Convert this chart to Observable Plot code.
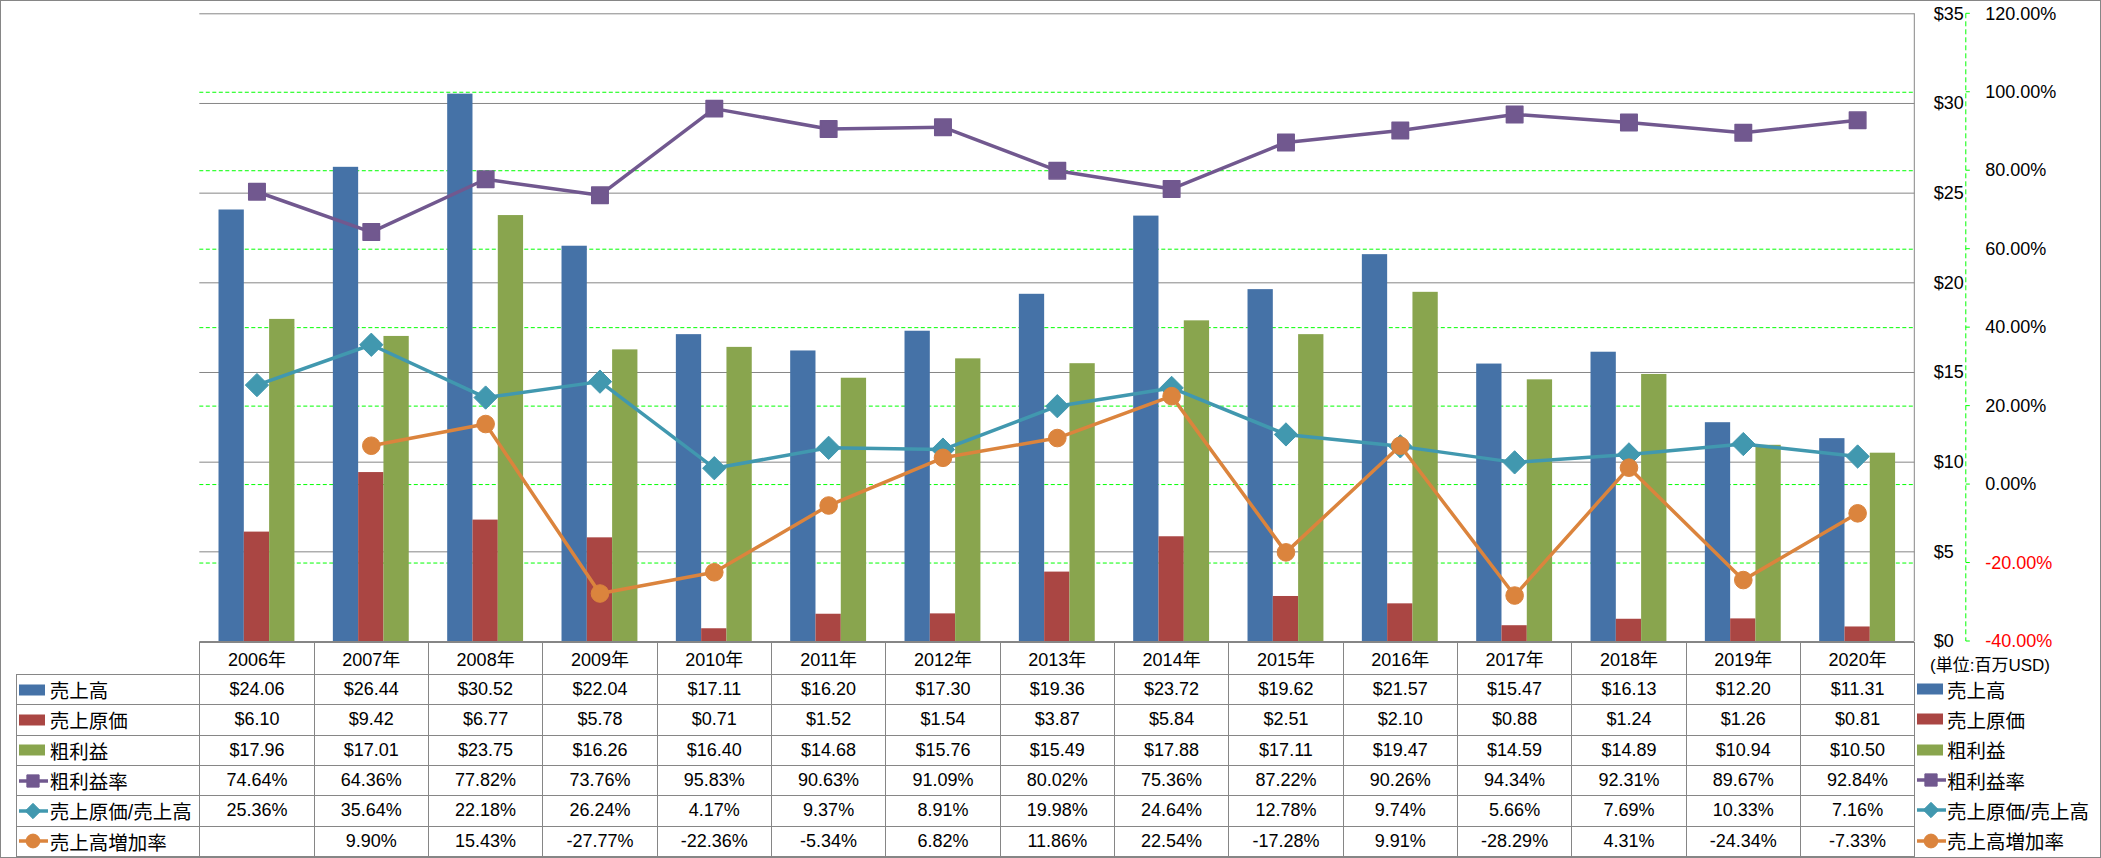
<!DOCTYPE html>
<html>
<head>
<meta charset="utf-8">
<script src="https://cdn.jsdelivr.net/npm/d3@7"></script>
<script src="https://cdn.jsdelivr.net/npm/@observablehq/plot@0.6"></script>
<style>
  body { margin: 0; background: #fff; }
  #wrap { position: relative; width: 2101px; height: 858px; overflow: hidden;
          font-family: "Liberation Sans", Arial, "Noto Sans CJK JP", sans-serif; color: #000; }
  #outer { position: absolute; left: 0; top: 0; width: 2101px; height: 858px; box-sizing: border-box; border: 1px solid #868686; }
  .cell { position: absolute; box-sizing: border-box; border: 1px solid #868686; display: flex;
          align-items: center; justify-content: center; font-size: 18px; white-space: nowrap; }
  .lab { justify-content: flex-start; }
  .leg { position: absolute; display: flex; align-items: center; font-size: 19.5px; white-space: nowrap; }
  #plot { position: absolute; left: 0; top: 0; }
</style>
</head>
<body>
<div id="wrap">
  <div id="outer"></div>
  <div id="table"></div>
  <div id="plot"></div>
</div>
<script>
// ---- data ----
const years = ["2006年","2007年","2008年","2009年","2010年","2011年","2012年","2013年","2014年","2015年","2016年","2017年","2018年","2019年","2020年"];
const sales = [24.06, 26.44, 30.52, 22.04, 17.11, 16.20, 17.30, 19.36, 23.72, 19.62, 21.57, 15.47, 16.13, 12.20, 11.31];
const cogs = [6.10, 9.42, 6.77, 5.78, 0.71, 1.52, 1.54, 3.87, 5.84, 2.51, 2.10, 0.88, 1.24, 1.26, 0.81];
const gross = [17.96, 17.01, 23.75, 16.26, 16.40, 14.68, 15.76, 15.49, 17.88, 17.11, 19.47, 14.59, 14.89, 10.94, 10.50];
const grossMargin = [74.64, 64.36, 77.82, 73.76, 95.83, 90.63, 91.09, 80.02, 75.36, 87.22, 90.26, 94.34, 92.31, 89.67, 92.84];
const cogsRatio = [25.36, 35.64, 22.18, 26.24, 4.17, 9.37, 8.91, 19.98, 24.64, 12.78, 9.74, 5.66, 7.69, 10.33, 7.16];
const growth = [null, 9.90, 15.43, -27.77, -22.36, -5.34, 6.82, 11.86, 22.54, -17.28, 9.91, -28.29, 4.31, -24.34, -7.33];
const seriesNames = ["売上高","売上原価","粗利益","粗利益率","売上原価/売上高","売上高増加率"];
const dollarTicks = [0, 5, 10, 15, 20, 25, 30, 35];
const pctTicks = [-40, -20, 0, 20, 40, 60, 80, 100, 120];
const unitLabel = "(単位:百万USD)";

// ---- style ----
const C = { blue: "#4572A7", red: "#AA4643", green: "#89A54E", purple: "#71588F", teal: "#4198AF", orange: "#DB843D",
            grid: "#868686", lime: "#00ff00" };
const FONT = '"Liberation Sans", Arial, "Noto Sans CJK JP", sans-serif';

// ---- geometry ----
const W = 2101, H = 660, ML = 199.3, MR = 186.7, MT = 13.3, MB = 19;
const bw = (W - ML - MR) / years.length;
const barW = 25.3, pad = (bw - 3 * barW) / 2;

// percent (secondary axis) -> primary $ units
const pctDomain = [-40, 120], usdDomain = [0, 35];
const pctToY = p => (p - pctDomain[0]) / (pctDomain[1] - pctDomain[0]) * (usdDomain[1] - usdDomain[0]) + usdDomain[0];

const barRows = (arr) => years.map((y, i) => ({year: y, v: arr[i]}));
const pctRows = (arr) => years.map((y, i) => ({year: y, p: arr[i], yv: arr[i] == null ? NaN : pctToY(arr[i])}));

const gm = pctRows(grossMargin), cr = pctRows(cogsRatio), gr = pctRows(growth);

const rightAxes = (index, scales, values, dims) => {
  const g = d3.create("svg:g");
  const xr = dims.width - dims.marginRight;
  const y0 = scales.y(usdDomain[0]), y1 = scales.y(usdDomain[1]);
  g.append("line").attr("x1", xr).attr("x2", xr).attr("y1", y1).attr("y2", y0)
    .attr("stroke", C.grid).attr("stroke-width", 1);
  const xa = xr + 51.5;
  g.append("line").attr("x1", xa).attr("x2", xa).attr("y1", y1).attr("y2", y0)
    .attr("stroke", C.lime).attr("stroke-width", 1).attr("stroke-dasharray", "5,3");
  for (const p of pctTicks) {
    const yy = scales.y(pctToY(p));
    g.append("line").attr("x1", xa).attr("x2", xa + 4).attr("y1", yy).attr("y2", yy)
      .attr("stroke", C.lime).attr("stroke-width", 1);
  }
  return g.node();
};

const chart = Plot.plot({
  width: W, height: H,
  marginLeft: ML, marginRight: MR, marginTop: MT, marginBottom: MB,
  x: {type: "band", domain: years, paddingInner: 0, paddingOuter: 0, round: false, axis: null},
  y: {domain: usdDomain, axis: null},
  color: {type: "identity"},
  style: {fontFamily: FONT, fontSize: "18px", background: "transparent", overflow: "visible"},
  marks: [
    Plot.ruleY(dollarTicks, {stroke: C.grid, strokeWidth: 1}),
    Plot.ruleY(pctTicks.filter(p => p > -40 && p < 120).map(pctToY), {stroke: C.lime, strokeWidth: 1, strokeDasharray: "4,2.5"}),
    Plot.barY(barRows(sales), {x: "year", y: "v", fill: C.blue, insetLeft: pad, insetRight: bw - pad - barW}),
    Plot.barY(barRows(cogs), {x: "year", y: "v", fill: C.red, insetLeft: pad + barW, insetRight: bw - pad - 2 * barW}),
    Plot.barY(barRows(gross), {x: "year", y: "v", fill: C.green, insetLeft: pad + 2 * barW, insetRight: pad}),
    Plot.line(gm, {x: "year", y: "yv", stroke: C.purple, strokeWidth: 3.5}),
    Plot.dot(gm, {x: "year", y: "yv", symbol: "square", r: 9.3, fill: C.purple, stroke: C.purple, strokeWidth: 1.5, strokeLinejoin: "round"}),
    Plot.line(cr, {x: "year", y: "yv", stroke: C.teal, strokeWidth: 3.5}),
    Plot.dot(cr, {x: "year", y: "yv", symbol: "diamond2", r: 10.5, fill: C.teal, stroke: C.teal, strokeWidth: 1}),
    Plot.line(gr, {x: "year", y: "yv", stroke: C.orange, strokeWidth: 3.5}),
    Plot.dot(gr.filter(d => d.p != null), {x: "year", y: "yv", r: 8.8, fill: C.orange, stroke: C.orange, strokeWidth: 1}),
    rightAxes,
    Plot.text(dollarTicks, {y: d => d, frameAnchor: "right", dx: 19, textAnchor: "start", text: d => "$" + d, fontSize: 18, fill: "#000"}),
    Plot.text(pctTicks, {y: p => pctToY(p), frameAnchor: "right", dx: 70.5, textAnchor: "start",
      text: p => p.toFixed(2) + "%", fontSize: 18, fill: p => p < 0 ? "#ff0000" : "#000000"})
  ]
});
document.getElementById("plot").appendChild(chart);

// ---- data table ----
const tbl = document.getElementById("table");
const colX = [16.3, ML];
for (let k = 1; k <= years.length; k++) colX.push(ML + k * bw);
const rowY = [641.7, 674];
for (let j = 1; j <= 6; j++) rowY.push(674 + j * 30.33);

function cell(x0, y0, x1, y1, html, cls) {
  const d = document.createElement("div");
  d.className = "cell" + (cls ? " " + cls : "");
  d.style.left = x0 + "px"; d.style.top = y0 + "px";
  d.style.width = (x1 - x0 + 1) + "px"; d.style.height = (y1 - y0 + 1) + "px";
  d.innerHTML = html;
  tbl.appendChild(d);
  return d;
}
const sym = (type, size) => d3.symbol(type, size)();
function icon(i) {
  const cols = [C.blue, C.red, C.green, C.purple, C.teal, C.orange];
  const c = cols[i];
  if (i < 3) return `<svg width="30" height="18" style="display:block"><rect x="0" y="3.5" width="26" height="11" fill="${c}"/></svg>`;
  const shapes = [null, null, null, d3.symbolSquare, d3.symbolDiamond2, d3.symbolCircle];
  const sizes = [0, 0, 0, 150, 150, 150];
  return `<svg width="30" height="18" style="display:block"><line x1="-1" x2="29" y1="9" y2="9" stroke="${c}" stroke-width="3.5"/>` +
    `<path transform="translate(14,9)" d="${sym(shapes[i], sizes[i])}" fill="${c}" stroke="${c}" stroke-linejoin="round"/></svg>`;
}
const rowsData = [sales, cogs, gross, grossMargin, cogsRatio, growth];
const fmt = (v, i) => v == null ? "" : (i < 3 ? "$" + v.toFixed(2) : v.toFixed(2) + "%");
// header
years.forEach((y, k) => cell(colX[k + 1], rowY[0], colX[k + 2], rowY[1], y));
// rows
rowsData.forEach((arr, j) => {
  cell(colX[0], rowY[j + 1], colX[1], rowY[j + 2], `<span style="margin-left:1.5px">${icon(j)}</span><span style="margin-left:1px;font-size:19.5px">${seriesNames[j]}</span>`, "lab");
  arr.forEach((v, k) => cell(colX[k + 1], rowY[j + 1], colX[k + 2], rowY[j + 2], fmt(v, j)));
});
// unit label + right legend
const u = document.createElement("div");
u.className = "leg"; u.style.left = "1930px"; u.style.top = "651px"; u.style.fontSize = "17px"; u.textContent = unitLabel;
tbl.appendChild(u);
seriesNames.forEach((n, j) => {
  const d = document.createElement("div");
  d.className = "leg";
  d.style.left = "1917px"; d.style.top = rowY[j + 1] + "px"; d.style.height = (rowY[j + 2] - rowY[j + 1]) + "px";
  d.innerHTML = `${icon(j)}<span style="margin-left:0px">${n}</span>`;
  tbl.appendChild(d);
});
</script>
</body>
</html>
